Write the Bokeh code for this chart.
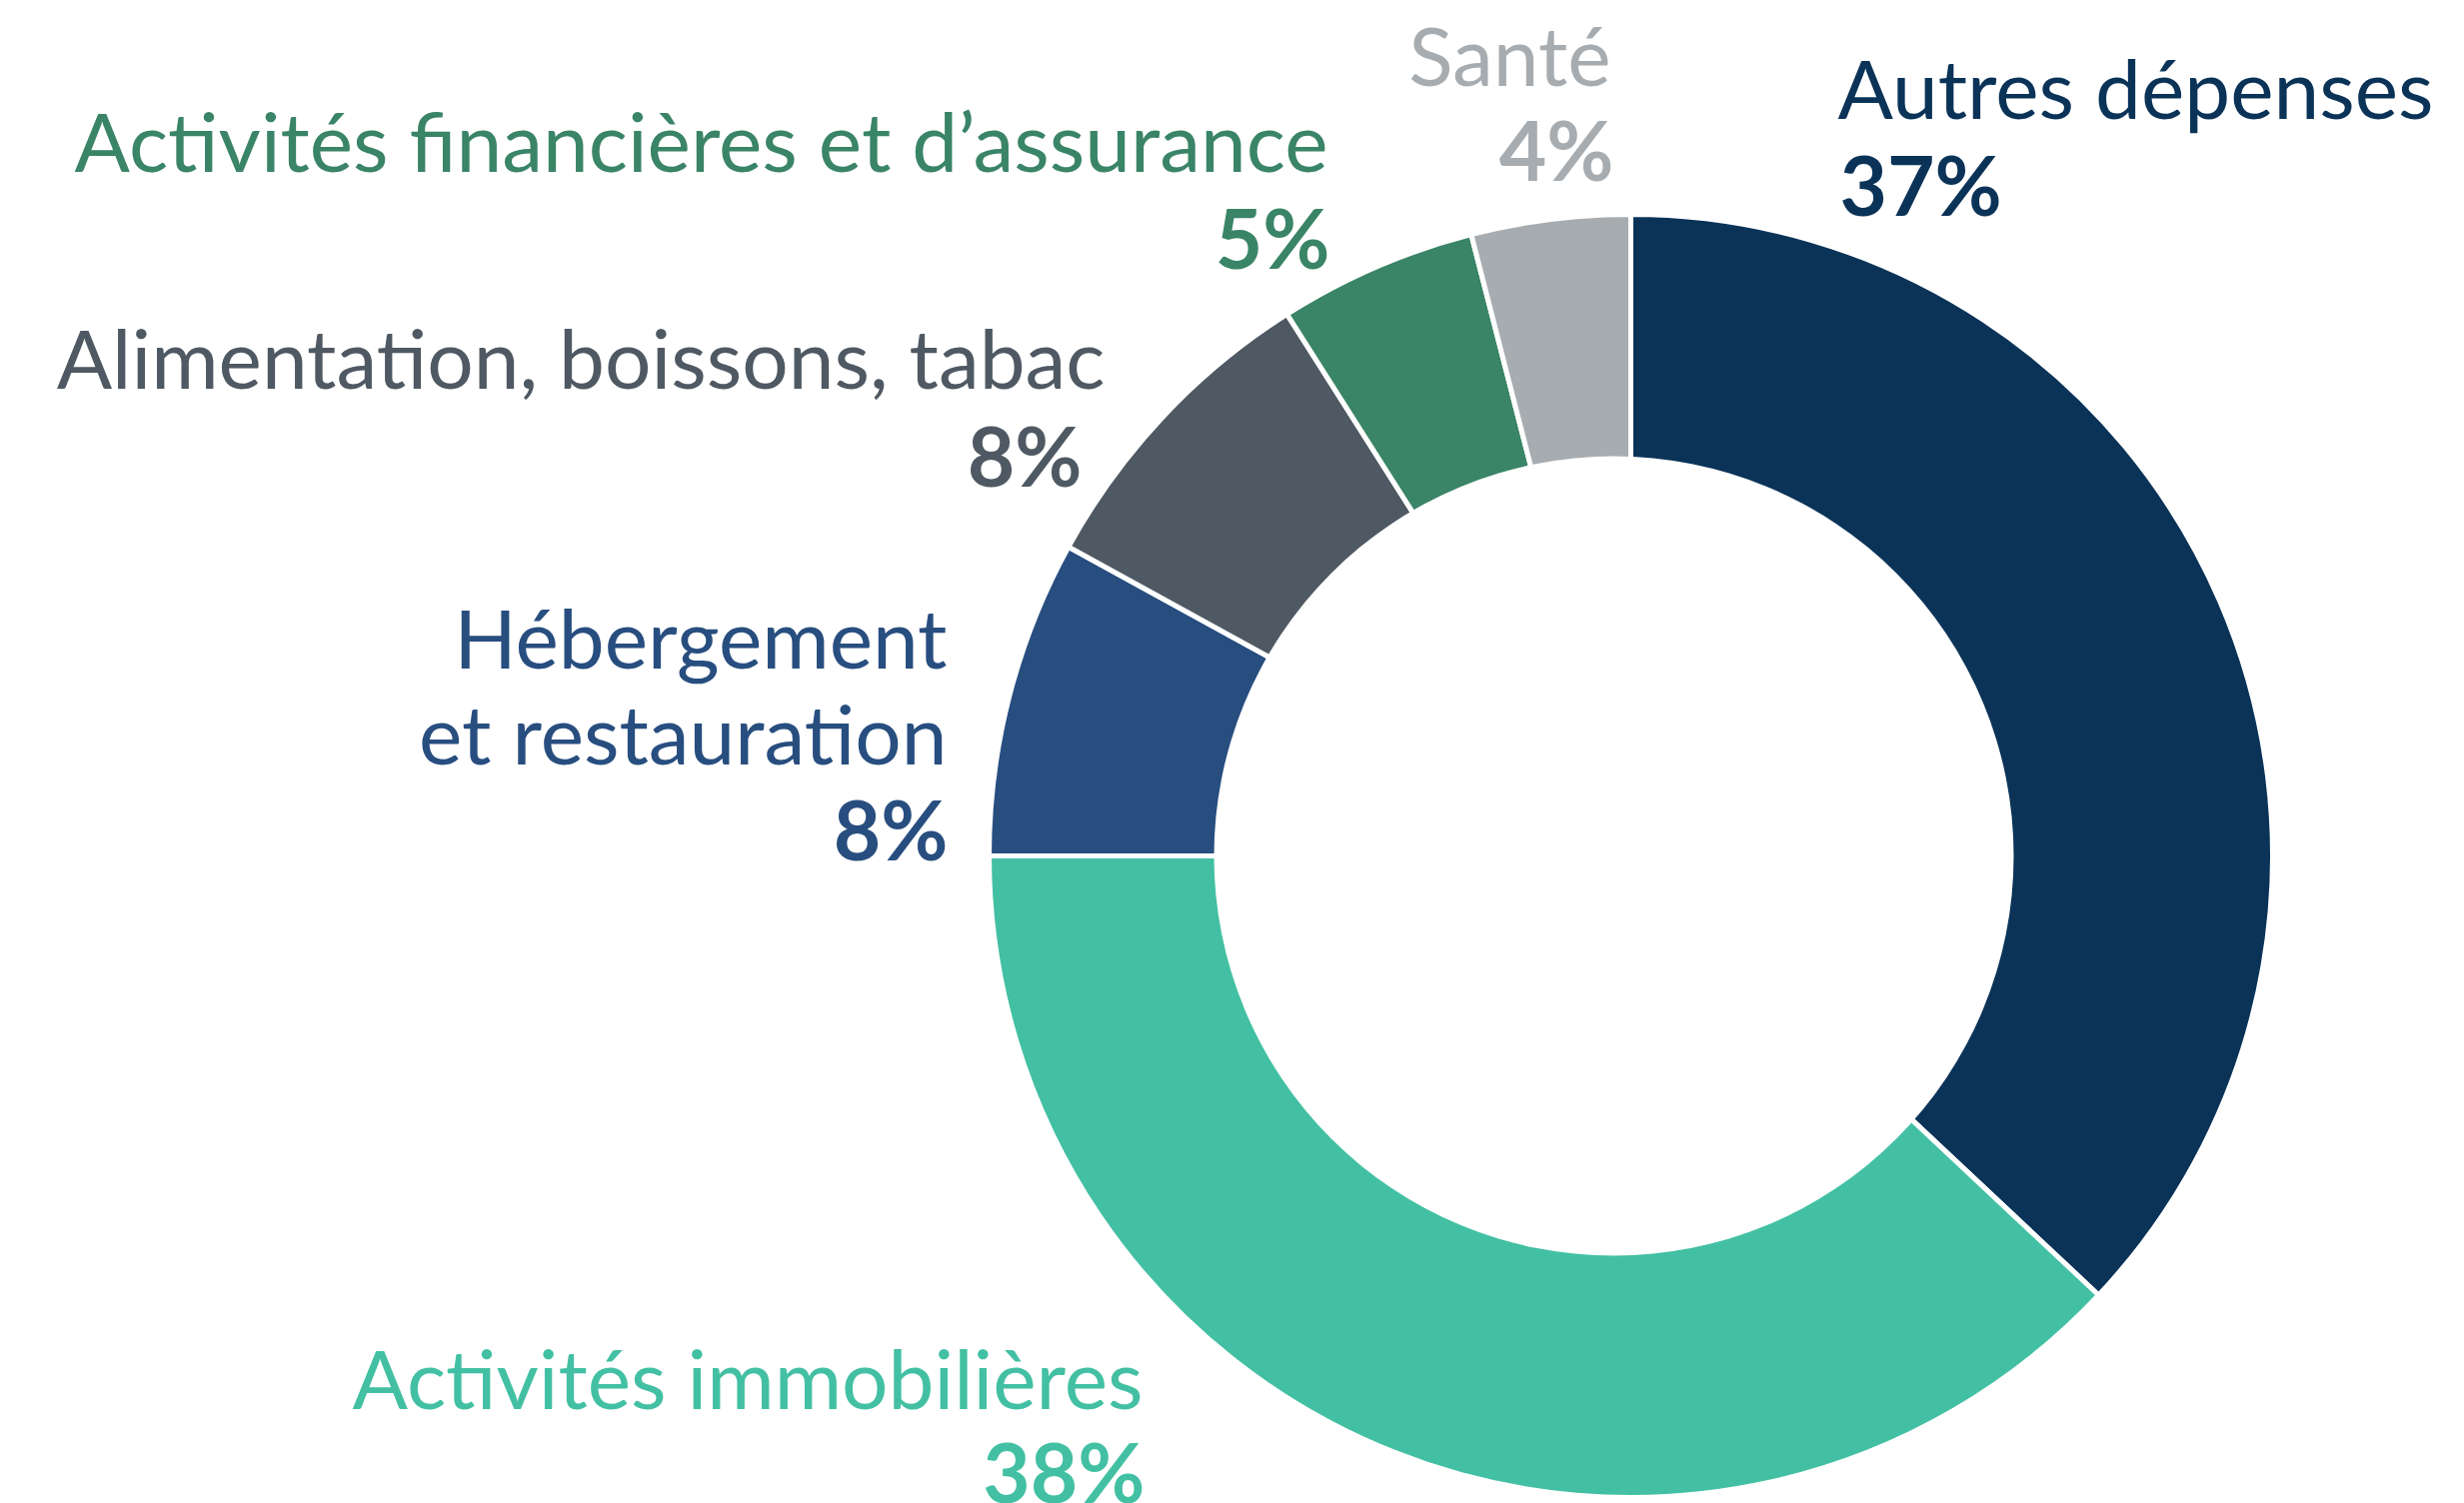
import numpy as np
from bokeh.plotting import figure
from bokeh.models import Range1d
from bokeh.core.properties import value
from bokeh.embed import file_html
from bokeh.resources import INLINE

# ---- data ----
categories = [
    "Autres dépenses",
    "Activités immobilières",
    "Hébergement\net restauration",
    "Alimentation, boissons, tabac",
    "Activités financières et d’assurance",
    "Santé",
]
shares = [37, 38, 8, 8, 5, 4]
pct_labels = ["37%", "38%", "8%", "8%", "5%", "4%"]
colors = ["#0B3358", "#43C0A3", "#284E7F", "#4F5963", "#3A8467", "#A7ACB0"]

# ---- layout (page pixel coordinates of the reference) ----
PAGE_H = 1504
OFF = 0
W, H = 2457, 1504
center = (1631, 856)
outer_r = 642
hole_center = (1614, 856)
hole_r = 400
FONT = "Lato"
FS = "82px"
BASE_SHIFT = -29
# per-label: name anchor x, name baseline y, pct anchor x, pct baseline y, align
label_layout = [
    (1838, 115, 1840, 212, "left"),
    (1143, 1406, 1145, 1500, "right"),
    (947, 665, 948, 857, "right"),
    (1105, 385, 1082, 483, "right"),
    (1328, 168, 1330, 265, "right"),
    (1611, 82, 1614, 177, "right"),
]
LINE_GAP = 96


def Y(y):
    return PAGE_H - y


p = figure(width=W, height=H, output_backend="svg", toolbar_location=None,
           x_range=Range1d(OFF, OFF + W), y_range=Range1d(Y(OFF + H), Y(OFF)),
           min_border=0, outline_line_color=None, background_fill_color="white")
p.axis.visible = False
p.grid.visible = False

total = float(sum(shares))
cum = np.concatenate([[0.0], np.cumsum(shares)]) / total
start = np.pi / 2 - cum[:-1] * 2 * np.pi
end = np.pi / 2 - cum[1:] * 2 * np.pi

p.wedge(x=[center[0]] * len(shares), y=[Y(center[1])] * len(shares),
        radius=outer_r, start_angle=list(start), end_angle=list(end),
        direction="clock", fill_color=colors, line_color="white", line_width=5)
p.circle(x=[hole_center[0]], y=[Y(hole_center[1])], radius=hole_r,
         fill_color="white", line_color=None)

for name, pct, col, (nx, ny, px_, py, align) in zip(categories, pct_labels, colors, label_layout):
    lines = name.split("\n")
    for i, ln in enumerate(lines):
        p.text(x=[nx], y=[Y(ny + i * LINE_GAP + BASE_SHIFT)], text=[ln], text_color=col,
               text_font=value(FONT), text_font_size=FS, text_align=align,
               text_baseline="alphabetic")
    p.text(x=[px_], y=[Y(py + BASE_SHIFT)], text=[pct], text_color=col,
           text_font=value(FONT), text_font_size=FS, text_font_style="bold",
           text_align=align, text_baseline="alphabetic")

open("out.html", "w").write(file_html(p, INLINE))
